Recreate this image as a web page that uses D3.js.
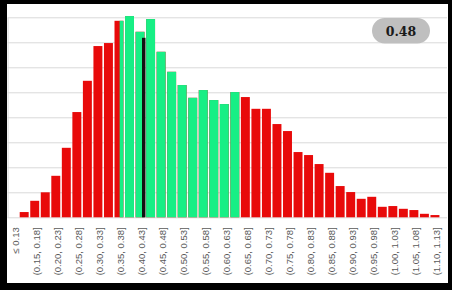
<!DOCTYPE html>
<html>
<head>
<meta charset="utf-8">
<script src="https://cdn.jsdelivr.net/npm/d3@7"></script>
<style>
  body { margin: 0; background: #000; }
  svg { display: block; }
</style>
</head>
<body>
<div id="chart"></div>
<script>
const w = 452;
const h = 290;

// bins of width 0.025 from 0.1 to 1.125
const binLabels = [
  "≤ 0.13", "(0.13, 0.15]", "(0.15, 0.18]", "(0.18, 0.20]", "(0.20, 0.23]",
  "(0.23, 0.25]", "(0.25, 0.28]", "(0.28, 0.30]", "(0.30, 0.33]", "(0.33, 0.35]",
  "(0.35, 0.38]", "(0.38, 0.40]", "(0.40, 0.43]", "(0.43, 0.45]", "(0.45, 0.48]",
  "(0.48, 0.50]", "(0.50, 0.53]", "(0.53, 0.55]", "(0.55, 0.58]", "(0.58, 0.60]",
  "(0.60, 0.63]", "(0.63, 0.65]", "(0.65, 0.68]", "(0.68, 0.70]", "(0.70, 0.73]",
  "(0.73, 0.75]", "(0.75, 0.78]", "(0.78, 0.80]", "(0.80, 0.83]", "(0.83, 0.85]",
  "(0.85, 0.88]", "(0.88, 0.90]", "(0.90, 0.93]", "(0.93, 0.95]", "(0.95, 0.98]",
  "(0.98, 1.00]", "(1.00, 1.03]", "(1.03, 1.05]", "(1.05, 1.08]", "(1.08, 1.10]",
  "(1.10, 1.13]"
];
const counts = [
  0, 2.1, 6.6, 10, 16.6, 27.8, 42.1, 54.6, 68.5, 69.7,
  78.6, 80.5, 74.2, 79.3, 66.2, 58.2, 52.9, 47.8, 50.9, 46.9,
  45.3, 50.1, 48.1, 43.4, 43.4, 37.3, 34.5, 26.1, 24.9, 21.3,
  17.8, 12.5, 10.1, 7.4, 8.2, 4.2, 4.5, 3.4, 2.9, 1.4,
  0.9
];
const shownLabels = binLabels.filter((d, i) => i % 2 === 0);
const valueDomain = [0.1, 1.125];
const greenRange = [0.365, 0.65];
const marker = 0.422;
const markerHeight = 71.8;
const badgeText = "0.48";

const plotLeft = 7.6, bandRight = 441, plotRight = 447;
const plotTop = 17.3, plotBottom = 217.3;

const svg = d3.select("#chart").append("svg")
  .attr("width", w)
  .attr("height", h);

svg.append("rect").attr("width", w).attr("height", h).attr("fill", "#000");
svg.append("rect").attr("x", 7).attr("y", 4).attr("width", 441).attr("height", 279).attr("fill", "#fff");

const x = d3.scaleBand()
  .domain(binLabels)
  .range([plotLeft, bandRight])
  .padding(0.15);

const xv = d3.scaleLinear()
  .domain(valueDomain)
  .range([plotLeft, bandRight]);

const y = d3.scaleLinear()
  .domain([0, 80])
  .range([plotBottom, plotTop]);

// gridlines
const grid = svg.append("g")
  .attr("transform", "translate(" + plotLeft + ",0)")
  .call(d3.axisLeft(y).ticks(8).tickSize(-(plotRight - plotLeft)).tickSizeOuter(0).tickFormat(""));
grid.selectAll("line").attr("stroke", "#d9d9d9");
grid.select(".domain").attr("stroke", "#d9d9d9");

// red bars
svg.append("g").selectAll("rect")
  .data(counts)
  .enter()
  .append("rect")
  .attr("x", (d, i) => x(binLabels[i]))
  .attr("y", d => y(d))
  .attr("width", x.bandwidth())
  .attr("height", d => plotBottom - y(d))
  .attr("fill", "#e80a0a");

// green part
svg.append("clipPath").attr("id", "greenclip")
  .append("rect")
  .attr("x", xv(greenRange[0]))
  .attr("y", 0)
  .attr("width", xv(greenRange[1]) - xv(greenRange[0]))
  .attr("height", h);

svg.append("g").attr("clip-path", "url(#greenclip)")
  .selectAll("rect")
  .data(counts)
  .enter()
  .append("rect")
  .attr("x", (d, i) => x(binLabels[i]))
  .attr("y", d => y(d))
  .attr("width", x.bandwidth())
  .attr("height", d => plotBottom - y(d))
  .attr("fill", "#17ef85");

// marker line
svg.append("rect")
  .attr("x", xv(marker) - 1.75)
  .attr("y", y(markerHeight))
  .attr("width", 3.5)
  .attr("height", plotBottom - y(markerHeight))
  .attr("fill", "#111");

// x axis
const xAxis = svg.append("g")
  .attr("transform", "translate(0," + plotBottom + ")")
  .call(d3.axisBottom(x).tickValues(shownLabels).tickSize(0));
xAxis.select(".domain").remove();
xAxis.selectAll("text")
  .attr("x", 0)
  .attr("y", 0)
  .attr("dy", "0.35em")
  .attr("transform", "translate(2,10) rotate(-90)")
  .style("text-anchor", "end")
  .style("font-family", "Liberation Sans, Arial, sans-serif")
  .style("font-size", "9.5px")
  .attr("fill", "#595959");

// badge
svg.append("rect")
  .attr("x", 372)
  .attr("y", 18)
  .attr("width", 58)
  .attr("height", 25.5)
  .attr("rx", 12.75)
  .attr("fill", "#bfbfbf");
svg.append("text")
  .attr("x", 401)
  .attr("y", 36)
  .attr("text-anchor", "middle")
  .style("font-family", "DejaVu Serif, serif")
  .style("font-weight", "bold")
  .style("font-size", "12.5px")
  .attr("fill", "#1a1a1a")
  .text(badgeText);
</script>
</body>
</html>
